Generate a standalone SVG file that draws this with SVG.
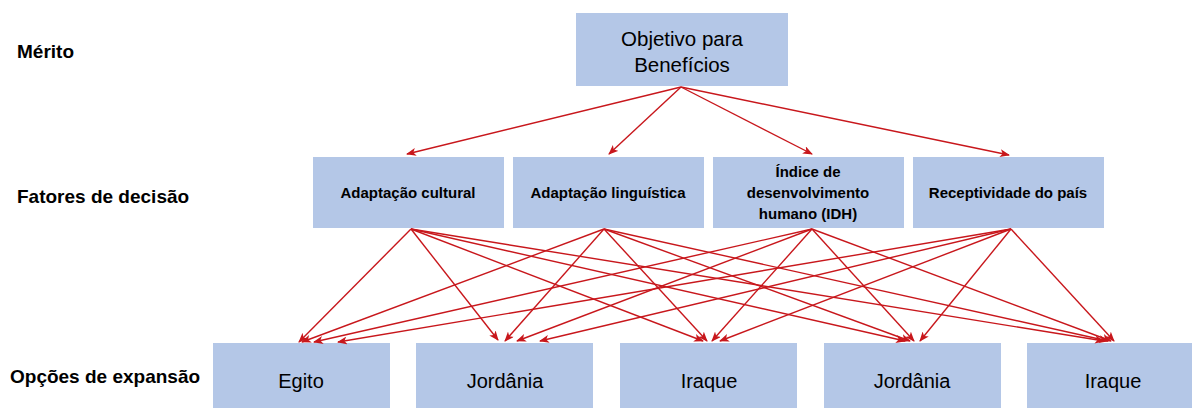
<svg xmlns="http://www.w3.org/2000/svg" width="1192" height="408" viewBox="0 0 1192 408">
<style>
.box{fill:#B4C7E7}
.lbl{font-family:"Liberation Sans",Arial,sans-serif;font-weight:bold;font-size:19px;fill:#000}
.mid{font-family:"Liberation Sans",Arial,sans-serif;font-weight:bold;font-size:15px;fill:#000;text-anchor:middle}
.big{font-family:"Liberation Sans",Arial,sans-serif;font-size:20px;fill:#000;text-anchor:middle}
.c line{stroke:#C8171C;stroke-width:1.4;fill:none;marker-end:url(#ah)}
</style>
<defs>
<marker id="ah" markerWidth="10" markerHeight="8" refX="9" refY="4" orient="auto" markerUnits="userSpaceOnUse">
<path d="M0,0 L10,4 L0,8 L2.5,4 Z" fill="#C8171C"/>
</marker>
</defs>
<rect width="1192" height="408" fill="#fff"/>
<g id="level-labels">
<text class="lbl" x="17" y="58">Mérito</text>
<text class="lbl" x="17" y="203">Fatores de decisão</text>
<text class="lbl" x="10" y="383">Opções de expansão</text>
</g>
<g id="goal">
<rect class="box" x="576" y="13" width="212" height="73"/>
<text class="big" x="682" y="46" style="font-size:20.5px">Objetivo para</text>
<text class="big" x="682" y="72" style="font-size:20.5px">Benefícios</text>
</g>
<g id="f1">
<rect class="box" x="313" y="157" width="191" height="71"/>
<text class="mid" x="408" y="198">Adaptação cultural</text>
</g>
<g id="f2">
<rect class="box" x="513" y="157" width="191" height="71"/>
<text class="mid" x="608" y="198">Adaptação linguística</text>
</g>
<g id="f3">
<rect class="box" x="713" y="157" width="191" height="71"/>
<text class="mid" x="808" y="177">Índice de</text>
<text class="mid" x="808" y="198">desenvolvimento</text>
<text class="mid" x="808" y="219">humano (IDH)</text>
</g>
<g id="f4">
<rect class="box" x="913" y="157" width="191" height="71"/>
<text class="mid" x="1008" y="198">Receptividade do país</text>
</g>
<g id="o1">
<rect class="box" x="213" y="343" width="177" height="65"/>
<text class="big" x="301" y="388">Egito</text>
</g>
<g id="o2">
<rect class="box" x="416" y="343" width="177" height="65"/>
<text class="big" x="505" y="388">Jordânia</text>
</g>
<g id="o3">
<rect class="box" x="620" y="343" width="177" height="65"/>
<text class="big" x="709" y="388">Iraque</text>
</g>
<g id="o4">
<rect class="box" x="824" y="343" width="177" height="65"/>
<text class="big" x="912" y="388">Jordânia</text>
</g>
<g id="o5">
<rect class="box" x="1027" y="343" width="177" height="65"/>
<text class="big" x="1113" y="388">Iraque</text>
</g>
<g id="connectors" class="c">
<line x1="681" y1="87" x2="407" y2="154"/>
<line x1="681" y1="87" x2="609" y2="154"/>
<line x1="681" y1="87" x2="812" y2="154"/>
<line x1="681" y1="87" x2="1009" y2="155"/>
<line x1="411" y1="229" x2="299" y2="342"/>
<line x1="411" y1="229" x2="498" y2="340"/>
<line x1="411" y1="229" x2="703" y2="341"/>
<line x1="411" y1="229" x2="905" y2="341"/>
<line x1="411" y1="229" x2="1104" y2="341"/>
<line x1="604" y1="229" x2="302" y2="342"/>
<line x1="604" y1="229" x2="505" y2="341"/>
<line x1="604" y1="229" x2="707" y2="341"/>
<line x1="604" y1="229" x2="910" y2="341"/>
<line x1="604" y1="229" x2="1108" y2="341"/>
<line x1="812" y1="229" x2="314" y2="342"/>
<line x1="812" y1="229" x2="517" y2="341"/>
<line x1="812" y1="229" x2="712" y2="341"/>
<line x1="812" y1="229" x2="914" y2="341"/>
<line x1="812" y1="229" x2="1111" y2="341"/>
<line x1="1011" y1="229" x2="338" y2="342"/>
<line x1="1011" y1="229" x2="540" y2="341"/>
<line x1="1011" y1="229" x2="720" y2="341"/>
<line x1="1011" y1="229" x2="920" y2="341"/>
<line x1="1011" y1="229" x2="1114" y2="341"/>
</g>
</svg>
